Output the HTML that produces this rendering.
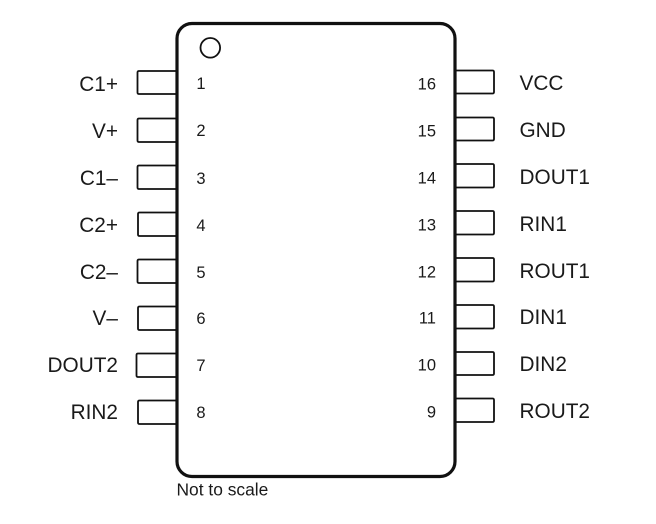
<!DOCTYPE html>
<html>
<head>
<meta charset="utf-8">
<style>
html,body{margin:0;padding:0;background:#fff;width:656px;height:524px;overflow:hidden}
svg{display:block}
text{font-family:"Liberation Sans",sans-serif;fill:#1a1a1a}
.l{font-size:20.800px;text-anchor:end}
.r{font-size:20.800px}
.n{font-size:16.500px;text-anchor:middle}
.m{font-size:16.500px;text-anchor:end}
.p{fill:none;stroke:#111;stroke-width:1.800;stroke-linejoin:round}
</style>
</head>
<body>
<svg width="656" height="524" viewBox="0 0 656 524" xmlns="http://www.w3.org/2000/svg">
<path class="p" d="M177 71H139Q137.500 71 137.500 72.500V92.500Q137.500 94 139 94H177"/>
<path class="p" d="M177 118.500H139Q137.500 118.500 137.500 120V140.500Q137.500 142 139 142H177"/>
<path class="p" d="M177 165.500H139Q137.500 165.500 137.500 167V187.500Q137.500 189 139 189H177"/>
<path class="p" d="M177 212.500H139.500Q138 212.500 138 214V234.500Q138 236 139.500 236H177"/>
<path class="p" d="M177 259.500H139Q137.500 259.500 137.500 261V281.500Q137.500 283 139 283H177"/>
<path class="p" d="M177 306.500H139.500Q138 306.500 138 308V328.500Q138 330 139.500 330H177"/>
<path class="p" d="M177 353.500H138Q136.500 353.500 136.500 355V375.500Q136.500 377 138 377H177"/>
<path class="p" d="M177 400.500H139.500Q138 400.500 138 402V422.500Q138 424 139.500 424H177"/>
<path class="p" d="M455 70.500H492.500Q494 70.500 494 72V92Q494 93.500 492.500 93.500H455"/>
<path class="p" d="M455 117.500H492.500Q494 117.500 494 119V139Q494 140.500 492.500 140.500H455"/>
<path class="p" d="M455 164H492.500Q494 164 494 165.500V186Q494 187.500 492.500 187.500H455"/>
<path class="p" d="M455 211H492.500Q494 211 494 212.500V233Q494 234.500 492.500 234.500H455"/>
<path class="p" d="M455 258H492.500Q494 258 494 259.500V280Q494 281.500 492.500 281.500H455"/>
<path class="p" d="M455 305H492.500Q494 305 494 306.500V327Q494 328.500 492.500 328.500H455"/>
<path class="p" d="M455 352H492.500Q494 352 494 353.500V373.500Q494 375 492.500 375H455"/>
<path class="p" d="M455 398.500H492.500Q494 398.500 494 400V420.500Q494 422 492.500 422H455"/>
<rect x="177" y="23.500" width="278" height="453" rx="15" ry="15" fill="none" stroke="#111" stroke-width="3.200"/>
<circle cx="210.300" cy="47.800" r="9.800" fill="none" stroke="#111" stroke-width="1.800"/>
<text class="l" x="118" y="91">C1+</text>
<text class="l" x="118" y="138">V+</text>
<text class="l" x="118" y="185">C1–</text>
<text class="l" x="118" y="232">C2+</text>
<text class="l" x="118" y="279">C2–</text>
<text class="l" x="118" y="325">V–</text>
<text class="l" x="118" y="372">DOUT2</text>
<text class="l" x="118" y="419">RIN2</text>
<text class="n" x="201" y="89">1</text>
<text class="n" x="201" y="136">2</text>
<text class="n" x="201" y="184">3</text>
<text class="n" x="201" y="231">4</text>
<text class="n" x="201" y="278">5</text>
<text class="n" x="201" y="324">6</text>
<text class="n" x="201" y="371">7</text>
<text class="n" x="201" y="418">8</text>
<text class="m" x="436" y="89.500">16</text>
<text class="m" x="436" y="136.500">15</text>
<text class="m" x="436" y="183.500">14</text>
<text class="m" x="436" y="230.500">13</text>
<text class="m" x="436" y="277.500">12</text>
<text class="m" x="436" y="323.500">11</text>
<text class="m" x="436" y="370.500">10</text>
<text class="m" x="436" y="417.500">9</text>
<text class="r" x="519.500" y="90">VCC</text>
<text class="r" x="519.500" y="137">GND</text>
<text class="r" x="519.500" y="184">DOUT1</text>
<text class="r" x="519.500" y="231">RIN1</text>
<text class="r" x="519.500" y="278">ROUT1</text>
<text class="r" x="519.500" y="324">DIN1</text>
<text class="r" x="519.500" y="371">DIN2</text>
<text class="r" x="519.500" y="418">ROUT2</text>
<text x="176.500" y="495.500" font-size="17.400">Not to scale</text>
</svg>
</body>
</html>
